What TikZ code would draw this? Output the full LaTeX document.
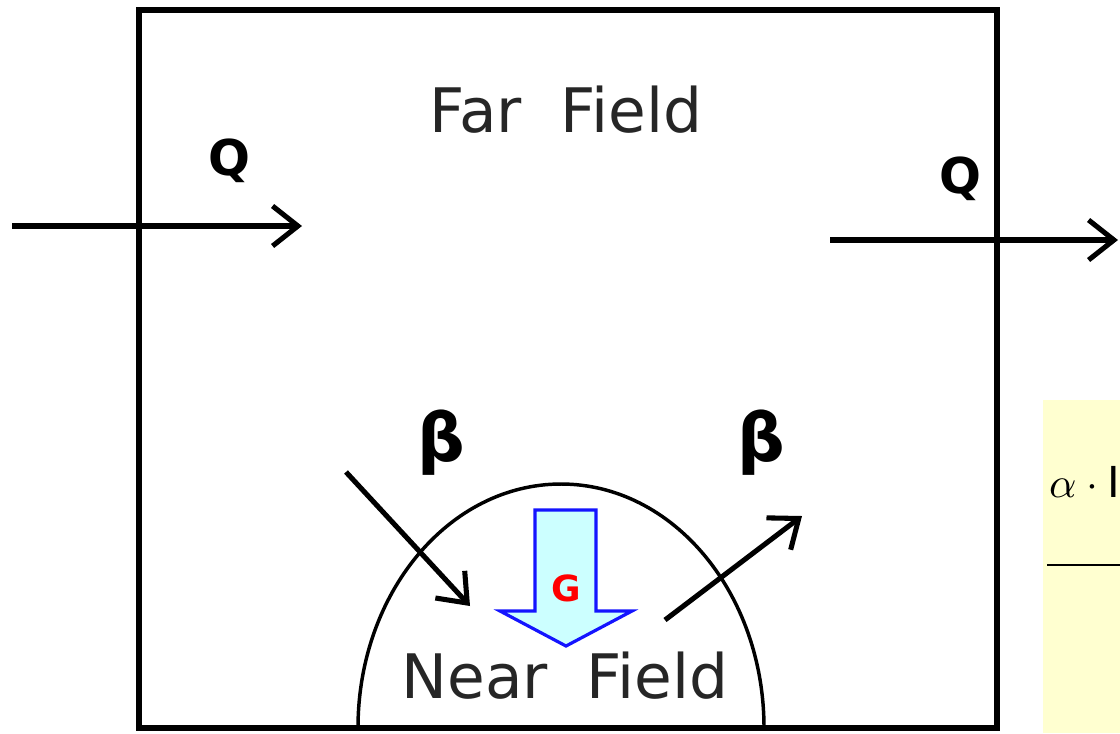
\documentclass[tikz,border=0pt]{standalone}
\usepackage{fontspec}
\setmainfont{DejaVu Sans}
\usepackage{unicode-math}
\setmathfont{Latin Modern Math}
\usetikzlibrary{arrows.meta}
\begin{document}
\begin{tikzpicture}[x=0.75pt,y=-0.75pt,
  flow/.style={line width=3.8pt,-{Straight Barb[length=19pt,width=30pt,line width=3.8pt]}},
  lbl/.style={font=\fontsize{46}{50}\selectfont,text=black!85,inner sep=0pt},
  qlbl/.style={font=\fontsize{37}{40}\selectfont\bfseries,inner sep=0pt},
  blbl/.style={font=\fontsize{50}{54}\selectfont\bfseries,inner sep=0pt}]
\useasboundingbox (0,0) rectangle (1120,733);
% yellow box
\fill[fill={rgb,255:red,255;green,255;blue,208}] (1043,400) rectangle (1120,733);
\begin{scope}
\clip (0,0) rectangle (1120,733);
\node[anchor=west,inner sep=0pt,font=\fontsize{32}{34}\selectfont] (eq) at (1049,482) {$\alpha\cdot\mathrm{I}$};
\draw[line width=1pt] (1047,565) -- (1125,565);
\end{scope}
% main box
\draw[line width=4pt] (139,10) rectangle (997,728);
% texts
\node[lbl] (far) at (566,110) {Far\ \ Field};
\node[lbl] (near) at (565,676) {Near\ \ Field};
\node[qlbl] (q1) at (229,161) {Q};
\node[qlbl] (q2) at (960,179) {Q};
\node[blbl] (b1) at (441,443) {β};
\node[blbl] (b2) at (761,443) {β};
% Q arrows
\coordinate (qin0) at (12,226);
\coordinate (qin1) at (302,226);
\coordinate (qout0) at (830,240);
\coordinate (qout1) at (1118,240);
\draw[flow] (qin0) -- (qin1);
\draw[flow] (qout0) -- (qout1);
% near-field arc
\draw[line width=2.6pt] (358,728) arc[start angle=180,end angle=0,x radius=203,y radius=-244];
% beta arrows
\coordinate (bi0) at (346,472);
\coordinate (bi1) at (470,606);
\coordinate (bo0) at (665,620);
\coordinate (bo1) at (802,516);
\draw[flow] (bi0) -- (bi1);
\draw[flow] (bo0) -- (bo1);
% G arrow
\draw[line width=2.4pt,draw={rgb,255:red,20;green,20;blue,255},fill={rgb,255:red,204;green,255;blue,255}]
  (535,510) -- (596,510) -- (596,611) -- (632,611) -- (566,646) -- (500,611) -- (535,611) -- cycle;
\node[font=\fontsize{27}{29}\selectfont\bfseries,text=red,inner sep=0pt] (g) at (566,588) {G};
\end{tikzpicture}
\end{document}
